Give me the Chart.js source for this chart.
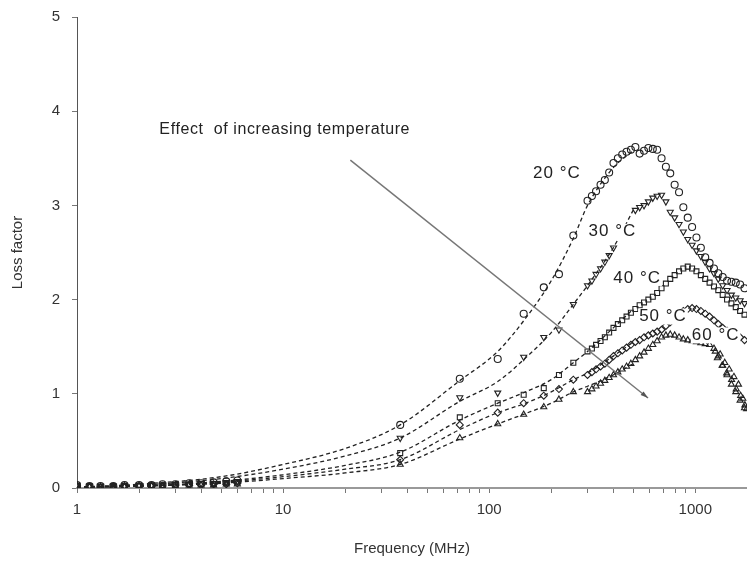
<!DOCTYPE html>
<html>
<head>
<meta charset="utf-8">
<script src="https://cdn.jsdelivr.net/npm/chart.js@4.4.1/dist/chart.umd.min.js"></script>
<style>
  html, body { margin: 0; padding: 0; background: #fff; }
  #wrap { width: 752px; height: 562px; position: relative; }
</style>
</head>
<body>
<div id="wrap"><canvas id="lossChart"></canvas></div>
<script>
// measured points: shared frequencies (MHz)
const freqLow = [1, 1.15, 1.3, 1.5, 1.7, 2, 2.3, 2.6, 3, 3.5, 4, 4.6, 5.3, 6,
                 37, 72, 110, 147, 184, 218, 256];
const freqHigh = [300, 315, 330, 347, 364, 382, 401, 421, 442, 464, 487, 512, 537, 564, 592, 622,
                  653, 686, 720, 756, 794, 834, 875, 919, 965, 1013, 1064, 1117, 1173, 1232, 1293,
                  1358, 1426, 1497, 1572, 1650, 1733];
// extra readings in the scattered tail of the 60 °C run
const freqTail60 = [1250, 1280, 1320, 1350, 1390, 1420, 1460, 1500, 1540, 1580, 1620, 1660, 1700, 1740, 1775];

const low20 = [0.03, 0.02, 0.02, 0.02, 0.03, 0.03, 0.03, 0.04, 0.04, 0.05, 0.05, 0.06, 0.07, 0.08,
               0.67, 1.16, 1.37, 1.85, 2.13, 2.27, 2.68];
const low30 = [0.03, 0.02, 0.02, 0.02, 0.02, 0.03, 0.03, 0.03, 0.04, 0.04, 0.05, 0.05, 0.06, 0.07,
               0.53, 0.96, 1.01, 1.39, 1.6, 1.68, 1.95];
const low40 = [0.02, 0.02, 0.01, 0.02, 0.02, 0.02, 0.03, 0.03, 0.03, 0.04, 0.04, 0.04, 0.05, 0.06,
               0.37, 0.75, 0.9, 0.99, 1.06, 1.2, 1.33];
const low50 = [0.02, 0.01, 0.01, 0.01, 0.02, 0.02, 0.02, 0.02, 0.03, 0.03, 0.03, 0.04, 0.04, 0.05,
               0.3, 0.67, 0.8, 0.9, 0.98, 1.05, 1.15];
const low60 = [0.02, 0.01, 0.01, 0.01, 0.01, 0.02, 0.02, 0.02, 0.02, 0.03, 0.03, 0.03, 0.04, 0.04,
               0.25, 0.53, 0.68, 0.78, 0.86, 0.94, 1.02];

const high20 = [3.05, 3.1, 3.15, 3.22, 3.27, 3.35, 3.45, 3.5, 3.54, 3.57, 3.59, 3.62, 3.55, 3.58, 3.61, 3.6,
                3.59, 3.5, 3.41, 3.34, 3.22, 3.14, 2.98, 2.87, 2.77, 2.66, 2.55, 2.45, 2.39, 2.33, 2.28,
                2.24, 2.2, 2.19, 2.18, 2.16, 2.12];
const high30 = [2.15, 2.2, 2.27, 2.33, 2.4, 2.47, 2.55, null, null, null, null, 2.95, 2.98, 3.0, 3.04, 3.08,
                3.1, 3.11, 3.04, 2.93, 2.87, 2.8, 2.72, 2.64, 2.58, 2.52, 2.46, 2.4, 2.33, 2.28, 2.22,
                2.15, 2.1, 2.05, 2.02, 1.99, 1.96];
const high40 = [1.45, 1.48, 1.52, 1.56, 1.6, 1.65, 1.7, 1.74, 1.78, 1.82, 1.86, 1.9, 1.94, 1.97, 2.0, 2.03,
                2.07, 2.12, 2.17, 2.22, 2.26, 2.3, 2.33, 2.35, 2.33, 2.3, 2.26, 2.22, 2.18, 2.14, 2.1,
                2.05, 2.0, 1.96, 1.92, 1.88, 1.84];
const high50 = [1.2, 1.23, 1.26, 1.29, 1.32, 1.36, 1.4, 1.43, 1.46, 1.49, 1.52, 1.55, 1.57, 1.6, 1.62, 1.64,
                1.66, 1.68, 1.72, 1.76, 1.8, 1.85, 1.88, 1.9, 1.91, 1.9, 1.88, 1.85, 1.82, 1.78, 1.74,
                1.7, 1.67, 1.64, 1.62, 1.6, 1.57];
const high60 = [1.02, 1.05, 1.08, 1.11, 1.14, 1.17, 1.2, 1.23, 1.26, 1.29, 1.32, 1.36, 1.4, 1.44, 1.48, 1.52,
                1.56, 1.6, 1.62, 1.63, 1.62, 1.6, 1.58, 1.57, 1.56, 1.55, 1.54, 1.53, 1.52, 1.48, 1.4,
                1.3, 1.2, 1.1, 1.02, 0.93, 0.85];
const tail60 = [1.45, 1.38, 1.42, 1.3, 1.33, 1.22, 1.26, 1.15, 1.18, 1.05, 1.1, 0.98, 0.95, 0.88, 0.84];

// dashed fitted curves
const freqFit = [1, 2, 5, 10, 20, 37, 72, 110, 150, 200, 256, 300, 400, 500];
const fit20 = [0.01, 0.04, 0.12, 0.25, 0.42, 0.67, 1.14, 1.45, 1.8, 2.2, 2.65, 3.0, 3.4, 3.58];
const fit30 = [0.01, 0.03, 0.1, 0.2, 0.34, 0.53, 0.92, 1.13, 1.38, 1.65, 1.95, 2.15, 2.55, 2.95];
const fit40 = [0.01, 0.02, 0.07, 0.14, 0.24, 0.38, 0.72, 0.9, 1.02, 1.15, 1.33, 1.45, 1.7, 1.9];
const fit50 = [0.01, 0.02, 0.06, 0.12, 0.2, 0.3, 0.62, 0.8, 0.9, 1.02, 1.15, 1.22, 1.4, 1.55];
const fit60 = [0.01, 0.02, 0.05, 0.1, 0.16, 0.25, 0.52, 0.68, 0.79, 0.9, 1.02, 1.08, 1.2, 1.32];

const xMajor = [1, 10, 100, 1000];
const yTicks = [0, 1, 2, 3, 4, 5];

const tempLabels = ['20 °C', '30 °C', '40 °C', '50 °C', '60 °C'];
const tempLabelPos = [[213, 3.34], [396, 2.72], [522, 2.23], [697, 1.82], [1255, 1.62]];
const arrowText = 'Effect  of increasing temperature';

const FONT = "'Liberation Sans', Arial, sans-serif";

function pts(xs, ys) {
  return xs.map((x, i) => ({ x: x, y: ys[i] })).filter(p => p.y !== null);
}

function markers(label, lo, hi, style, rot, extra) {
  return {
    type: 'scatter',
    label: label,
    data: pts(freqLow, lo).concat(pts(freqHigh, hi), extra || []),
    pointStyle: style,
    rotation: rot || 0,
    pointRadius: 3.5,
    borderWidth: 1.1,
    borderColor: '#222',
    backgroundColor: 'rgba(255,255,255,0)'
  };
}

function fitLine(label, ys) {
  return {
    type: 'line',
    label: label,
    data: pts(freqFit, ys),
    borderColor: '#222',
    borderWidth: 1.3,
    borderDash: [4, 3],
    pointRadius: 0,
    cubicInterpolationMode: 'monotone',
    fill: false
  };
}

// text labels and the arrow
const notesPlugin = {
  id: 'notes',
  afterDatasetsDraw(chart) {
    const { ctx, scales: { x, y } } = chart;
    ctx.save();
    ctx.font = '17px ' + FONT;
    ctx.letterSpacing = '1px';
    ctx.textBaseline = 'middle';
    ctx.textAlign = 'center';
    tempLabels.forEach((t, i) => {
      const p = tempLabelPos[i];
      const px = x.getPixelForValue(p[0]), py = y.getPixelForValue(p[1]);
      const w = ctx.measureText(t).width;
      ctx.fillStyle = '#fff';
      ctx.fillRect(px - w / 2 - 1, py - 8, w + 2, 16);
      ctx.fillStyle = '#222';
      ctx.fillText(t, px, py);
    });

    ctx.textAlign = 'left';
    ctx.font = '16px ' + FONT;
    ctx.letterSpacing = '0.6px';
    ctx.fillText(arrowText, x.getPixelForValue(2.51), y.getPixelForValue(3.8));
    ctx.letterSpacing = '0px';

    const x0 = x.getPixelForValue(21.2), y0 = y.getPixelForValue(3.48);
    const x1 = x.getPixelForValue(590), y1 = y.getPixelForValue(0.955);
    ctx.strokeStyle = '#777';
    ctx.lineWidth = 1.5;
    ctx.beginPath();
    ctx.moveTo(x0, y0);
    ctx.lineTo(x1, y1);
    ctx.stroke();
    const a = Math.atan2(y1 - y0, x1 - x0);
    ctx.fillStyle = '#555';
    ctx.beginPath();
    ctx.moveTo(x1, y1);
    ctx.lineTo(x1 - 8 * Math.cos(a - 0.3), y1 - 8 * Math.sin(a - 0.3));
    ctx.lineTo(x1 - 8 * Math.cos(a + 0.3), y1 - 8 * Math.sin(a + 0.3));
    ctx.closePath();
    ctx.fill();
    ctx.restore();
  }
};

const ctx = document.getElementById('lossChart').getContext('2d');

new Chart(ctx, {
  data: {
    datasets: [
      fitLine('fit 20', fit20),
      fitLine('fit 30', fit30),
      fitLine('fit 40', fit40),
      fitLine('fit 50', fit50),
      fitLine('fit 60', fit60),
      markers('20 °C', low20, high20, 'circle'),
      markers('30 °C', low30, high30, 'triangle', 180),
      markers('40 °C', low40, high40, 'rect'),
      markers('50 °C', low50, high50, 'rectRot'),
      markers('60 °C', low60, high60, 'triangle', 0, pts(freqTail60, tail60))
    ]
  },
  options: {
    responsive: true,
    maintainAspectRatio: false,
    animation: false,
    layout: { padding: { top: 17, right: 0, left: 0, bottom: 0 } },
    plugins: {
      legend: { display: false },
      tooltip: { enabled: false }
    },
    scales: {
      x: {
        type: 'logarithmic',
        min: 1,
        max: 1780,
        afterFit(s) { s.height = 74; },
        afterBuildTicks(s) {
          const t = [];
          xMajor.forEach(m => {
            for (let k = 1; k <= 9; k++) {
              if (m * k <= 1000) t.push({ value: m * k });
            }
          });
          s.ticks = t;
        },
        border: { color: '#999', width: 2 },
        grid: { drawOnChartArea: false, drawTicks: true, tickLength: 5, color: '#777' },
        ticks: {
          autoSkip: false,
          maxRotation: 0,
          padding: 8,
          color: '#333',
          font: { family: FONT, size: 15 },
          callback(v) { return xMajor.includes(v) ? String(v) : ''; }
        },
        title: {
          display: true,
          text: 'Frequency (MHz)',
          color: '#333',
          font: { family: FONT, size: 15 },
          padding: { top: 4, bottom: 4 }
        }
      },
      y: {
        min: 0,
        max: 5,
        afterFit(s) {
          s.width = 77;
          s.paddingTop = 0;
          s.paddingBottom = 0;
        },
        afterBuildTicks(s) { s.ticks = yTicks.map(v => ({ value: v })); },
        border: { color: '#555', width: 1 },
        grid: { drawOnChartArea: false, drawTicks: true, tickLength: 5, color: '#777' },
        ticks: {
          padding: 12,
          color: '#333',
          font: { family: FONT, size: 15 }
        },
        title: {
          display: true,
          text: 'Loss factor',
          color: '#333',
          font: { family: FONT, size: 15 },
          padding: { top: 9, bottom: 4 }
        }
      }
    }
  },
  plugins: [notesPlugin]
});
</script>
</body>
</html>
